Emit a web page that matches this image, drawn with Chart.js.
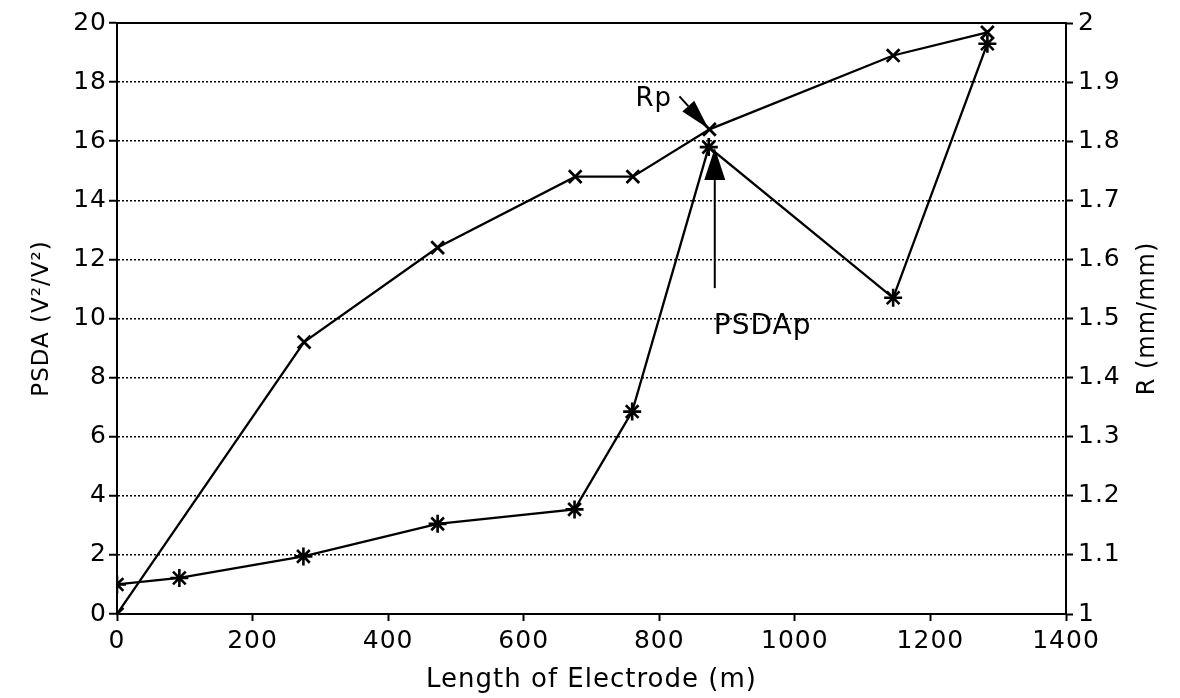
<!DOCTYPE html>
<html><head><meta charset="utf-8">
<script src="https://cdn.jsdelivr.net/npm/chart.js@4/dist/chart.umd.min.js"></script>
<style>html,body{margin:0;padding:0;background:#fff}#wrap{width:1180px;height:698px}</style>
</head><body><div id="wrap"><canvas id="c" width="1180" height="698"></canvas></div>
<script>
// R (right axis) series, 'x' markers
const lengthR = [0, 276, 473, 676, 761, 874, 1145, 1284];
const valuesR = [1.0, 1.46, 1.62, 1.74, 1.74, 1.82, 1.945, 1.984];
// PSDA (left axis) series, '*' markers
const lengthPSDA = [0, 92, 275, 473, 675, 760, 873, 1145, 1284];
const valuesPSDA = [1.0, 1.22, 1.95, 3.05, 3.54, 6.85, 15.8, 10.7, 19.3];
// axes
const xTicks = [0, 200, 400, 600, 800, 1000, 1200, 1400];
const leftTicks = [0, 2, 4, 6, 8, 10, 12, 14, 16, 18, 20];
const rightTicks = [1, 1.1, 1.2, 1.3, 1.4, 1.5, 1.6, 1.7, 1.8, 1.9, 2];
const xTitle = 'Length of Electrode (m)';
const leftTitle = 'PSDA (V²/V²)';
const rightTitle = 'R (mm/mm)';
// annotated peaks
const rpIndex = 5;
const psdapIndex = 6;

const FONT = '"DejaVu Sans", sans-serif';
const ptsR = lengthR.map((x, i) => ({x, y: valuesR[i]}));
const ptsP = lengthPSDA.map((x, i) => ({x, y: valuesPSDA[i]}));

const spacing = {
  id: 'spacing',
  beforeUpdate(chart) { chart.ctx.letterSpacing = '1px'; },
  beforeDraw(chart) { chart.ctx.letterSpacing = '1px'; }
};

const annot = {
  id: 'annot',
  afterDatasetsDraw(chart) {
    const {ctx, chartArea: a, scales} = chart;
    ctx.save();
    // top frame line
    ctx.strokeStyle = '#000'; ctx.lineWidth = 2;
    ctx.beginPath(); ctx.moveTo(a.left, a.top); ctx.lineTo(a.right, a.top); ctx.stroke();

    function arrow(x0, y0, x1, y1, headLen, headW) {
      const ang = Math.atan2(y1 - y0, x1 - x0);
      const bx = x1 - headLen * Math.cos(ang), by = y1 - headLen * Math.sin(ang);
      ctx.lineWidth = 2;
      ctx.beginPath(); ctx.moveTo(x0, y0); ctx.lineTo(bx, by); ctx.stroke();
      const nx = -Math.sin(ang) * headW / 2, ny = Math.cos(ang) * headW / 2;
      ctx.beginPath(); ctx.moveTo(x1, y1); ctx.lineTo(bx + nx, by + ny); ctx.lineTo(bx - nx, by - ny); ctx.closePath(); ctx.fill();
    }
    ctx.fillStyle = '#000'; ctx.strokeStyle = '#000';
    ctx.letterSpacing = '1px';
    // Rp
    const rx = scales.x.getPixelForValue(lengthR[rpIndex]);
    const ry = scales.y1.getPixelForValue(valuesR[rpIndex]);
    arrow(rx - 30, ry - 33, rx - 1, ry - 1, 30, 16);
    ctx.font = '26px ' + FONT;
    ctx.textBaseline = 'alphabetic'; ctx.textAlign = 'left';
    ctx.fillText('Rp', rx - 74, ry - 23);
    // PSDAp
    const px = scales.x.getPixelForValue(lengthPSDA[psdapIndex]) + 6;
    const py = scales.y.getPixelForValue(valuesPSDA[psdapIndex]);
    arrow(px, py + 141, px, py + 1, 32, 21);
    ctx.font = '28px ' + FONT;
    ctx.fillText('PSDAp', px - 1, py + 187);
    // right axis title, reading bottom-to-top
    ctx.font = '24px ' + FONT;
    ctx.textAlign = 'center'; ctx.textBaseline = 'middle';
    ctx.translate(1148, (a.top + a.bottom) / 2);
    ctx.rotate(-Math.PI / 2);
    ctx.fillText(rightTitle, 0, 0);
    ctx.restore();
  }
};

new Chart(document.getElementById('c'), {
  type: 'line',
  data: {
    datasets: [
      {label: 'R', data: ptsR, yAxisID: 'y1', borderColor: '#000', backgroundColor: '#000',
       borderWidth: 2.3, pointStyle: 'crossRot', pointRadius: 9, pointBorderWidth: 2.8, tension: 0},
      {label: 'PSDA', data: ptsP, yAxisID: 'y', borderColor: '#000', backgroundColor: '#000',
       borderWidth: 2.3, pointStyle: 'star', pointRadius: 9, pointBorderWidth: 2.6, tension: 0}
    ]
  },
  options: {
    responsive: false, animation: false,
    layout: {padding: {top: 23, left: 0, right: 0, bottom: 0}},
    plugins: {legend: {display: false}, tooltip: {enabled: false}},
    scales: {
      x: {
        type: 'linear', min: 0, max: 1400,
        afterBuildTicks(s) { s.ticks = xTicks.map(v => ({value: v})); },
        afterFit(s) { s.height = 698 - 614; },
        ticks: {color: '#000', font: {family: FONT, size: 25}, padding: 5, maxRotation: 0,
                callback: v => String(v)},
        grid: {drawOnChartArea: false, drawTicks: true, tickLength: 7, color: '#000', tickWidth: 2},
        border: {color: '#000', width: 2},
        title: {display: true, text: xTitle, color: '#000', font: {family: FONT, size: 26}, padding: {top: 0, bottom: 2}}
      },
      y: {
        type: 'linear', position: 'left', min: 0, max: 20,
        afterBuildTicks(s) { s.ticks = leftTicks.map(v => ({value: v})); },
        afterFit(s) { s.width = 117; },
        ticks: {color: '#000', font: {family: FONT, size: 25}, padding: 2},
        grid: {color: '#000', lineWidth: 1.5, drawTicks: true, tickLength: 8, tickColor: '#000', tickWidth: 2},
        border: {color: '#000', width: 2, dash: [2, 2]},
        title: {display: true, text: leftTitle, color: '#000', font: {family: FONT, size: 23}, padding: {top: 28, bottom: 0}}
      },
      y1: {
        type: 'linear', position: 'right', min: 1, max: 2,
        afterBuildTicks(s) { s.ticks = rightTicks.map(v => ({value: v})); },
        afterFit(s) { s.width = 1180 - 1066; },
        ticks: {color: '#000', font: {family: FONT, size: 25}, padding: 5,
                callback: v => String(+(+v).toFixed(1))},
        grid: {drawOnChartArea: false, drawTicks: true, tickLength: 7, tickColor: '#000', tickWidth: 2},
        border: {color: '#000', width: 2},
        title: {display: false}
      }
    }
  },
  plugins: [spacing, annot]
});
</script></body></html>
